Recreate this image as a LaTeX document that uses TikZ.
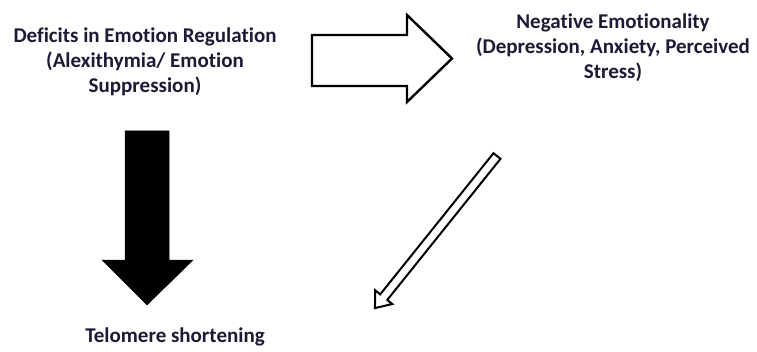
\documentclass[tikz,border=0pt]{standalone}
\usepackage{fontspec}
\setmainfont{Carlito}[Ligatures=NoCommon]
\definecolor{txt}{RGB}{28,26,52}
\begin{document}
\begin{tikzpicture}[x=1pt,y=1pt,
  lbl/.style={font=\fontsize{21}{25}\selectfont\bfseries, text=txt, align=center, inner sep=0pt},
  hollow/.style={draw=black, line width=2.4pt, fill=white, line join=miter},
  solidarrow/.style={draw=black, fill=black, line width=0.5pt}]
\useasboundingbox (0,0) rectangle (757,351);
\node[lbl] (der) at (145,289) {Deficits in Emotion Regulation\\(Alexithymia/ Emotion\\Suppression)};
\node[lbl] (neg) at (613,303) {Negative Emotionality\\(Depression, Anxiety, Perceived\\Stress)};
\node[lbl] (tel) at (175,14) {Telomere shortening};
% hollow right arrow
\draw[hollow] (312,265) -- (312,316) -- (407,316) -- (407,336) -- (452,292.5) -- (407,249) -- (407,265) -- cycle;
% solid down arrow
\draw[solidarrow] (125,220) -- (169,220) -- (169,91) -- (193,91) -- (147,46) -- (102,91) -- (125,91) -- cycle;
% thin diagonal hollow arrow
\begin{scope}[shift={(497,195)}, rotate=231.25]
\draw[hollow, line width=2pt] (0,4.5) -- (181,4.5) -- (181,11) -- (195,0) -- (181,-11) -- (181,-4.5) -- (0,-4.5) -- cycle;
\end{scope}
\end{tikzpicture}
\end{document}
